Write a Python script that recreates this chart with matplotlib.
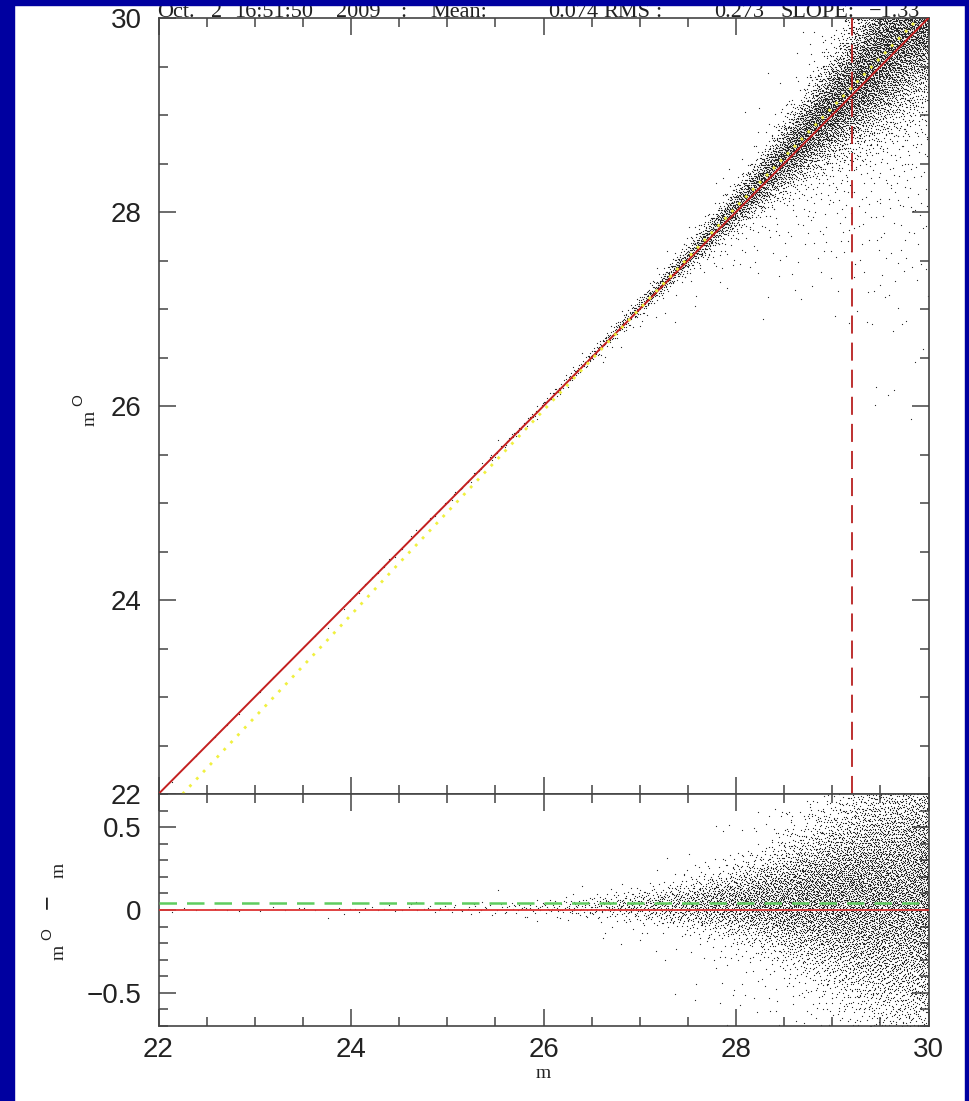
import numpy as np
import matplotlib
matplotlib.use("Agg")
import matplotlib.pyplot as plt
from matplotlib.patches import Rectangle

# ---------------- data ----------------
# magnitude bins of the scatter cloud (left edges, width 0.5)
bin_lo = [22.0, 22.5, 23.0, 23.5, 24.0, 24.5, 25.0, 25.5,
          26.0, 26.5, 27.0, 27.5, 28.0, 28.5, 29.0, 29.5]
bin_count = [3, 3, 4, 6, 8, 12, 20, 35,
             70, 160, 330, 650, 1150, 1900, 2800, 3500]
# typical m^O - m offset of the dense core at each bin centre
bin_center = [0.0, 0.0, 0.0, 0.005, 0.01, 0.01, 0.01, 0.015,
              0.02, 0.025, 0.03, 0.04, 0.05, 0.07, 0.09, 0.11]
# width of the core at each bin centre
bin_sigma = [0.01, 0.01, 0.01, 0.012, 0.014, 0.016, 0.018, 0.02,
             0.03, 0.04, 0.06, 0.09, 0.14, 0.22, 0.33, 0.45]
outlier_frac = 0.08

# yellow fitted relation (m, m^O)
fit_m = [22.25, 23.9, 24.5, 26.3, 28.0, 29.9]
fit_mo = [22.0, 23.74, 24.38, 26.27, 28.05, 30.0]

cut_mag = 29.2          # vertical dashed line
mean_offset = 0.045     # green dashed line (lower panel)

title_tokens = ["Oct.", "2", "16:51:50", "2009", ":", "Mean:",
                "0.074", "RMS", ":", "0.273", "SLOPE:", "\u22121.33"]
title_x_px = [157, 211, 234, 336, 400, 430, 548, 603, 655, 714, 780, 869]

top_yticks = [22, 24, 26, 28, 30]
bot_yticks = [-0.5, 0, 0.5]
xticks = [22, 24, 26, 28, 30]


# ---------------- deterministic (quasi-uniform) point placement ----------------
def radical_inverse(idx, base):
    idx = np.asarray(idx, dtype=np.int64).copy()
    r = np.zeros(idx.shape, dtype=float)
    f = 1.0
    while np.any(idx > 0):
        f /= base
        r += f * (idx % base)
        idx //= base
    return r


def norm_ppf(p):
    a = [-3.969683028665376e+01, 2.209460984245205e+02, -2.759285104469687e+02,
         1.383577518672690e+02, -3.066479806614716e+01, 2.506628277459239e+00]
    b = [-5.447609879822406e+01, 1.615858368580409e+02, -1.556989798598866e+02,
         6.680131188771972e+01, -1.328068155288572e+01]
    c = [-7.784894002430293e-03, -3.223964580411365e-01, -2.400758277161838e+00,
         -2.549671348283685e+00, 4.374664141464968e+00, 2.938163982698783e+00]
    d = [7.784695709041462e-03, 3.224671290700398e-01, 2.445134137142996e+00,
         3.754408661907416e+00]
    p = np.clip(p, 1e-6, 1 - 1e-6)
    out = np.empty_like(p)
    plow, phigh = 0.02425, 1 - 0.02425
    lo = p < plow
    hi = p > phigh
    mid = ~(lo | hi)
    q = np.sqrt(-2 * np.log(p[lo]))
    out[lo] = (((((c[0]*q+c[1])*q+c[2])*q+c[3])*q+c[4])*q+c[5]) / \
              ((((d[0]*q+d[1])*q+d[2])*q+d[3])*q+1)
    q = np.sqrt(-2 * np.log(1 - p[hi]))
    out[hi] = -(((((c[0]*q+c[1])*q+c[2])*q+c[3])*q+c[4])*q+c[5]) / \
               ((((d[0]*q+d[1])*q+d[2])*q+d[3])*q+1)
    q = p[mid] - 0.5
    r = q * q
    out[mid] = (((((a[0]*r+a[1])*r+a[2])*r+a[3])*r+a[4])*r+a[5])*q / \
               (((((b[0]*r+b[1])*r+b[2])*r+b[3])*r+b[4])*r+1)
    return out


bw = 0.5
mids = np.array(bin_lo) + bw / 2
counts = np.array(bin_count, dtype=float)
m_pts, d_pts = [], []
k0 = 17
for i, (lo, n) in enumerate(zip(bin_lo, bin_count)):
    k = np.arange(k0, k0 + n)
    k0 += n
    ux = radical_inverse(k, 2)
    uy = radical_inverse(k, 3)
    uo = radical_inverse(k, 5)
    # log-slope of the counts around this bin, so density varies smoothly
    i0, i1 = max(i - 1, 0), min(i + 1, len(counts) - 1)
    beta = np.log(counts[i1] / counts[i0]) / (i1 - i0)
    if abs(beta) < 1e-6:
        xf = ux
    else:
        xf = np.log1p(ux * np.expm1(beta)) / beta
    m = lo + bw * xf
    cen = np.interp(m, mids, bin_center)
    sig = np.interp(m, mids, bin_sigma)
    z = norm_ppf(uy)
    out = uo < outlier_frac
    dd = np.where(out, cen - sig + 3.0 * sig * z, cen + sig * z)
    m_pts.append(m)
    d_pts.append(dd)
m_pts = np.concatenate(m_pts)
d_pts = np.concatenate(d_pts)
mo_pts = m_pts + d_pts

# ---------------- figure ----------------
W, H = 969, 1101
fig = plt.figure(figsize=(W / 100, H / 100), dpi=100, facecolor="white")


def fx(px):
    return px / W


def fy(py):
    return 1 - py / H


left, right = 158.5, 928.5
ax1 = fig.add_axes([fx(left), fy(794), (right - left) / W, 776 / H])
ax2 = fig.add_axes([fx(left), fy(1026), (right - left) / W, 232 / H])

axcol = "#444444"
dotcol = "#2a2a2a"
labcol = "#222222"
tick_fs = 20

for ax in (ax1, ax2):
    for sp in ax.spines.values():
        sp.set_color(axcol)
        sp.set_linewidth(1.2)
    ax.tick_params(which="both", direction="in", top=True, right=True,
                   color=axcol, width=1.1)
    ax.tick_params(which="major", length=12.5)
    ax.tick_params(which="minor", length=6.5)
    ax.set_xlim(22, 30)
    ax.set_xticks(xticks)
    ax.set_xticks(np.arange(22, 30.01, 0.5), minor=True)

# top panel
ax1.plot(m_pts, mo_pts, "s", ms=0.8, mew=0, color=dotcol, zorder=2)
ax1.plot([22, 30], [22, 30], color="#c42020", lw=1.4, zorder=3)
ax1.plot(fit_m, fit_mo, color="#f0f040", lw=2.0, ls=(0, (1.0, 2.6)), zorder=4)
ax1.axvline(cut_mag, color="#b82020", lw=1.3, ls=(0, (10, 5)), zorder=3)
ax1.set_ylim(22, 30)
ax1.set_yticks(top_yticks)
ax1.set_yticks(np.arange(22, 30.01, 0.5), minor=True)
ax1.tick_params(labelbottom=False, pad=12)
for lab in ax1.get_yticklabels():
    lab.set_fontfamily("Liberation Sans")
    lab.set_fontsize(tick_fs)
    lab.set_color(labcol)

# bottom panel
ax2.plot(m_pts, d_pts, "s", ms=0.8, mew=0, color=dotcol, zorder=2)
ax2.axhline(0, color="#dd3333", lw=1.3, zorder=3)
ax2.axhline(mean_offset, color="#5fcc5f", lw=1.8, ls=(0, (7, 4)), zorder=4)
ax2.set_ylim(-0.7, 0.7)
ax2.set_yticks(bot_yticks)
ax2.set_yticklabels(["\u22120.5", "0", "0.5"])
ax2.set_yticks(np.arange(-0.7, 0.701, 0.1), minor=True)
ax2.set_xticklabels([str(v) for v in xticks])
ax2.tick_params(axis="y", pad=12)
ax2.tick_params(axis="x", pad=8)
for lab in ax2.get_yticklabels() + ax2.get_xticklabels():
    lab.set_fontfamily("Liberation Sans")
    lab.set_fontsize(tick_fs)
    lab.set_color(labcol)

# axis labels built from pieces (rotated PGPLOT-like labels)
serif = "Liberation Serif"
fig.text(fx(90), fy(418), "m", rotation=90, ha="center", va="center",
         family=serif, size=14, color=labcol)
fig.text(fx(78), fy(400), "O", rotation=90, ha="center", va="center",
         family="Liberation Sans", size=11, color=labcol)
fig.text(fx(59), fy(952), "m", rotation=90, ha="center", va="center",
         family=serif, size=14, color=labcol)
fig.text(fx(47.5), fy(934), "O", rotation=90, ha="center", va="center",
         family="Liberation Sans", size=11, color=labcol)
fig.text(fx(46.5), fy(902), "\u2212", rotation=90, ha="center", va="center",
         family="Liberation Sans", size=18, color=labcol)
fig.text(fx(59), fy(870), "m", rotation=90, ha="center", va="center",
         family=serif, size=14, color=labcol)
fig.text(fx(543), fy(1073), "m", ha="center", va="center",
         family=serif, size=14, color=labcol)

# title line
for tok, xp in zip(title_tokens, title_x_px):
    fig.text(fx(xp), fy(17), tok, ha="left", va="baseline",
             family=serif, size=16, color=labcol)

# blue frame
blue = "#0000a0"
fig.add_artist(Rectangle((0, 0), fx(14), 1, transform=fig.transFigure,
                         color=blue, zorder=20))
fig.add_artist(Rectangle((fx(965), 0), 1, 1, transform=fig.transFigure,
                         color=blue, zorder=20))
fig.add_artist(Rectangle((0, fy(5)), 1, 1, transform=fig.transFigure,
                         color=blue, zorder=20))

fig.savefig("out.png", dpi=100, facecolor="white")
